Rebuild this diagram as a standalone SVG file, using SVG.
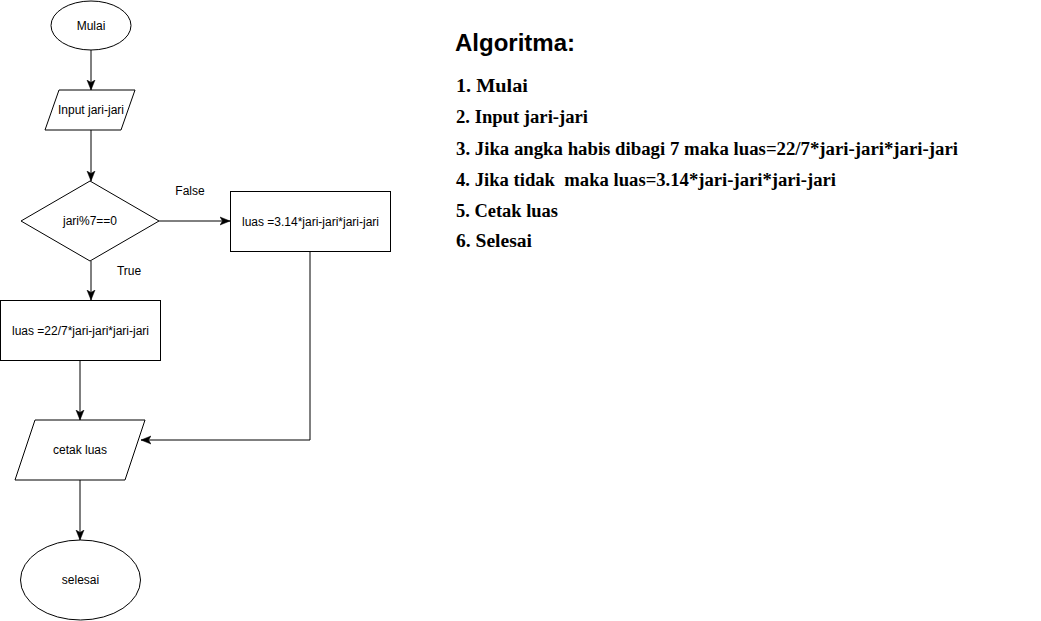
<svg xmlns="http://www.w3.org/2000/svg" width="1041" height="621" viewBox="0 0 1041 621">
<style>
.shape{fill:#fff;stroke:#000;stroke-width:1}
.lbl{font-family:"Liberation Sans",Arial,sans-serif;font-size:12px;fill:#000;text-anchor:middle;dominant-baseline:central}
.edge{fill:none;stroke:#000;stroke-width:1;marker-end:url(#arr)}
.title{font-family:"Liberation Sans",Arial,sans-serif;font-size:23px;font-weight:bold;fill:#000}
.step{font-family:"Liberation Serif","Times New Roman",serif;font-weight:bold;fill:#000;font-size:18px}
</style>
<defs>
<marker id="arr" viewBox="0 0 10 10" refX="10" refY="5" markerWidth="10" markerHeight="10" markerUnits="userSpaceOnUse" orient="auto">
<path d="M0,1 L10,5 L0,9 L2.5,5 z" fill="#000" stroke="#000" stroke-width="0.5"/>
</marker>
</defs>
<rect width="1041" height="621" fill="#fff"/>
<g id="connectors">
<path class="edge" d="M91,50 L91,90"/>
<path class="edge" d="M91,130 L91,181"/>
<path class="edge" d="M159,221 L230,221"/>
<path class="edge" d="M91,261 L91,300"/>
<path class="edge" d="M80,360 L80,420"/>
<path class="edge" d="M310,251 L310,440 L141,440"/>
<path class="edge" d="M80,480 L80,540"/>
<text class="lbl" x="190" y="191">False</text>
<text class="lbl" x="129" y="271">True</text>
</g>
<g id="mulai">
<ellipse class="shape" cx="91" cy="25.5" rx="40" ry="24.5"/>
<text class="lbl" x="91" y="25.5">Mulai</text>
</g>
<g id="input">
<polygon class="shape" points="59,90 135,90 121,130 45,130"/>
<text class="lbl" x="91" y="110">Input jari-jari</text>
</g>
<g id="decision">
<polygon class="shape" points="90,181 159,221 90,261 21,221"/>
<text class="lbl" x="90" y="221">jari%7==0</text>
</g>
<g id="luas314">
<rect class="shape" x="230.5" y="191.5" width="160" height="60"/>
<text class="lbl" x="310.5" y="221.5">luas =3.14*jari-jari*jari-jari</text>
</g>
<g id="luas227">
<rect class="shape" x="0.5" y="300.5" width="160" height="60"/>
<text class="lbl" x="80.5" y="330.5">luas =22/7*jari-jari*jari-jari</text>
</g>
<g id="cetak">
<polygon class="shape" points="35,420 145,420 125,480 15,480"/>
<text class="lbl" x="80" y="450">cetak luas</text>
</g>
<g id="selesai">
<ellipse class="shape" cx="80.5" cy="580" rx="60" ry="40"/>
<text class="lbl" x="80.5" y="580">selesai</text>
</g>
<g id="algoritma">
<text class="title" x="455" y="51" textLength="120" lengthAdjust="spacingAndGlyphs">Algoritma:</text>
<text class="step" x="456" y="92" font-size="20" textLength="72" lengthAdjust="spacingAndGlyphs">1. Mulai</text>
<text class="step" x="456" y="123" textLength="132" lengthAdjust="spacingAndGlyphs">2. Input jari-jari</text>
<text class="step" x="456" y="155" textLength="502" lengthAdjust="spacingAndGlyphs">3. Jika angka habis dibagi 7 maka luas=22/7*jari-jari*jari-jari</text>
<text class="step" x="456" y="186" textLength="380" lengthAdjust="spacingAndGlyphs" xml:space="preserve">4. Jika tidak  maka luas=3.14*jari-jari*jari-jari</text>
<text class="step" x="456" y="217" textLength="102" lengthAdjust="spacingAndGlyphs">5. Cetak luas</text>
<text class="step" x="456" y="247" textLength="76" lengthAdjust="spacingAndGlyphs">6. Selesai</text>
</g>
</svg>
